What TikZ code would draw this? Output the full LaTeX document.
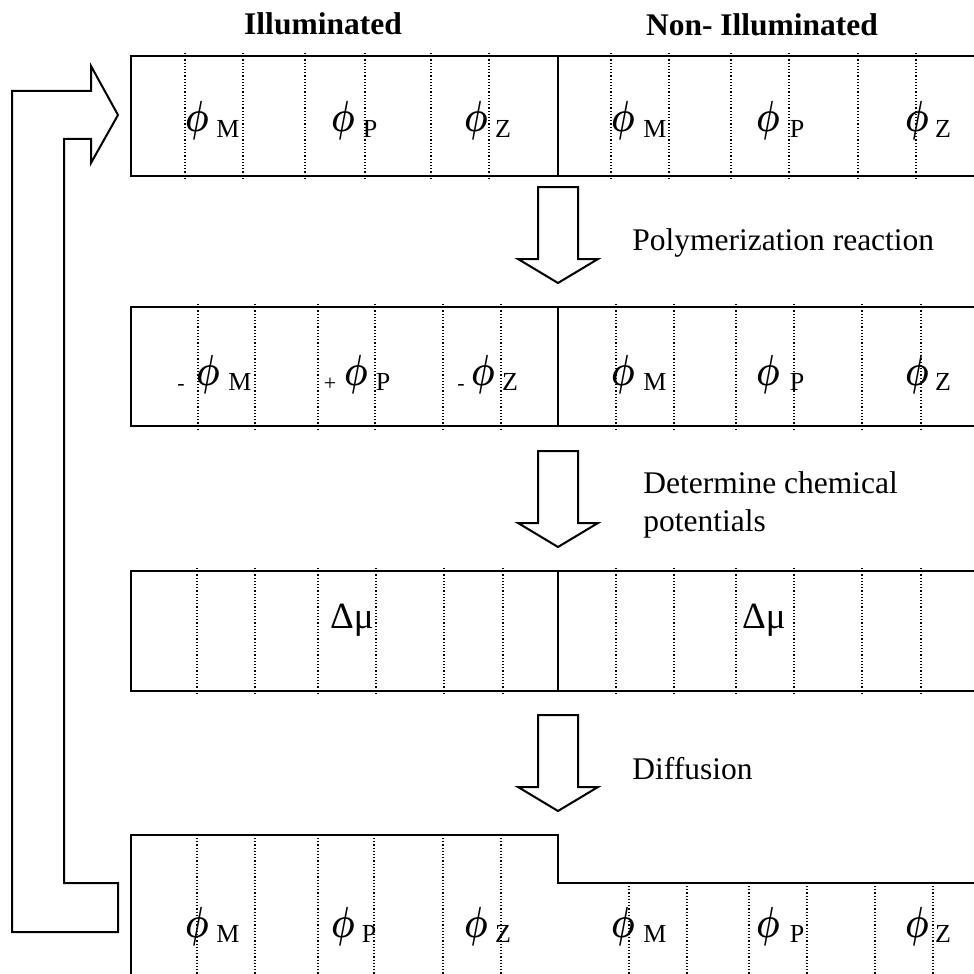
\documentclass[tikz,border=0pt]{standalone}
\usepackage{fontspec}
\usepackage{bm}
\usepackage{graphicx}
\setmainfont{Liberation Serif}
\usetikzlibrary{positioning}

\newcommand{\phisign}{\scalebox{0.8}[1.05]{$\bm{\phi}$}}

\tikzset{
  cell/.style={line width=1pt},
  divider/.style={line width=0.8pt},
  gridline/.style={line width=0.6pt, dash pattern=on 0.6pt off 1pt},
  blockarrow/.style={line width=1pt, line join=miter},
  heading/.style={font=\fontsize{15.75}{19}\selectfont\bfseries, anchor=base, inner sep=0pt},
  stage/.style={font=\fontsize{15.75}{19}\selectfont, anchor=base west, inner sep=0pt, align=left},
  phisym/.style={font=\fontsize{21}{21}\selectfont, anchor=base, inner sep=0pt},
  phisub/.style={font=\fontsize{13}{13}\selectfont, anchor=base, inner sep=0pt},
  signmark/.style={font=\fontsize{11}{11}\selectfont, anchor=base, inner sep=0pt},
  potential/.style={font=\fontsize{18.5}{18.5}\selectfont, anchor=base, inner sep=0pt},
}

\begin{document}
\begin{tikzpicture}[x=0.5pt, y=-0.5pt, line cap=butt]
  \useasboundingbox (0,0) rectangle (974,974);
  \clip (0,0) rectangle (974,974);
  % column headings
  \node[heading] (illum) at (323,35) {Illuminated};
  \node[heading] (nonillum) at (762,36) {Non- Illuminated};
  % row 1: initial state
  \draw[cell] (990,56) -- (131,56) -- (131,176) -- (990,176);
  \draw[divider] (558,56) -- (558,176);
  \foreach \x in {185,243,305,365,431,489,611,669,731,789,858,916}
    \draw[gridline] (\x,53) -- (\x,180);
  \foreach \n/\xp/\xs/\s in {a/197/228/M, b/343/370/P, c/476/503/Z, d/623/655/M, e/768/797/P, f/917/943/Z} {
    \node[phisym] (rowAphi\n) at (\xp,132) {\phisign};
    \node[phisub] (rowAsub\n) at (\xs,138) {\s};
  }
  % row 2: after reaction
  \draw[cell] (990,307) -- (131,307) -- (131,426) -- (990,426);
  \draw[divider] (558,307) -- (558,426);
  \foreach \x in {198,255,318,375,443,501,616,674,736,794,862,921}
    \draw[gridline] (\x,304) -- (\x,430);
  \foreach \n/\xp/\xs/\s in {a/208/240/M, b/356/383/P, c/483/510/Z, d/623/655/M, e/768/797/P, f/917/943/Z} {
    \node[phisym] (rowBphi\n) at (\xp,385) {\phisign};
    \node[phisub] (rowBsub\n) at (\xs,390) {\s};
  }
  \node[signmark] (signM) at (181,390) {-};
  \node[signmark] (signP) at (330,390) {+};
  \node[signmark] (signZ) at (461,390) {-};
  % row 3: chemical potentials
  \draw[cell] (990,571) -- (131,571) -- (131,691) -- (990,691);
  \draw[divider] (558,571) -- (558,691);
  \foreach \x in {197,255,318,376,444,503,616,674,736,794,862,921}
    \draw[gridline] (\x,568) -- (\x,695);
  \node[potential] (dmuL) at (352,628) {Δμ};
  \node[potential] (dmuR) at (764,628) {Δμ};
  % row 4: after diffusion
  \draw[cell] (131,990) -- (131,835) -- (558,835) -- (558,883) -- (990,883);
  \foreach \x in {197,255,318,374,443,501}
    \draw[gridline] (\x,838) -- (\x,990);
  \foreach \x in {629,687,749,807,875,933}
    \draw[gridline] (\x,886) -- (\x,990);
  \foreach \n/\xp/\xs/\s in {a/197/228/M, b/343/369/P, c/476/503/Z, d/623/655/M, e/768/797/P, f/917/943/Z} {
    \node[phisym] (rowDphi\n) at (\xp,937) {\phisign};
    \node[phisub] (rowDsub\n) at (\xs,942) {\s};
  }
  % step arrows and their captions
  \foreach \t in {187,451,715}
    \draw[blockarrow] (538,\t) -- ++(40,0) -- ++(0,72) -- ++(20,0) -- ++(-40,24)
      -- ++(-40,-24) -- ++(20,0) -- cycle;
  \node[stage] (poly) at (632,250) {Polymerization reaction};
  \node[stage, anchor=north west] (chempot) at (643,471) {Determine chemical\\potentials};
  \node[stage] (diffu) at (632,779) {Diffusion};
  % loop back to the top
  \draw[blockarrow] (118,932) -- (12,932) -- (12,91) -- (91,91) -- (91,66) -- (118,115)
    -- (91,163) -- (91,139) -- (64,139) -- (64,883) -- (118,883) -- cycle;
\end{tikzpicture}
\end{document}
